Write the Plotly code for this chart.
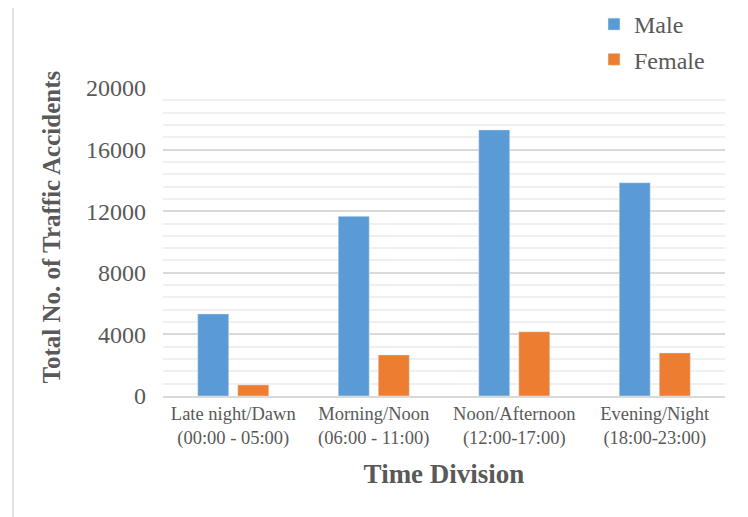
import plotly.graph_objects as go

categories = ["Late night/Dawn<br>(00:00 - 05:00)", "Morning/Noon<br>(06:00 - 11:00)",
              "Noon/Afternoon<br>(12:00-17:00)", "Evening/Night<br>(18:00-23:00)"]
male = [5330, 11670, 17280, 13850]
female = [720, 2670, 4170, 2800]
y_ticks = [0, 4000, 8000, 12000, 16000, 20000]
y_title = "Total No. of Traffic Accidents"
x_title = "Time Division"

FONT = "Liberation Serif, Times New Roman, serif"
GRAY = "#595959"

# page is offset by an 8px body margin; geometry below compensates
W, H = 748, 517
L, R, T, B = 155, 31, 80, 129
PW, PH = W - L - R, H - T - B

fig = go.Figure()
fig.add_trace(go.Bar(name="Male", x=categories, y=male, marker_color="#5B9BD5", legendgroup="m"))
fig.add_trace(go.Bar(name="Female", x=categories, y=female, marker_color="#ED7D31", legendgroup="f"))

fig.update_layout(
    width=W, height=H,
    margin=dict(l=L, r=R, t=T, b=B, autoexpand=False),
    paper_bgcolor="white", plot_bgcolor="white",
    barmode="group", bargap=0.43, bargroupgap=0.225,
    font=dict(family=FONT, color=GRAY),
    showlegend=True,
    legend=dict(xref="paper", yref="paper", x=(586 - L) / PW, y=1 + (T + 6) / PH,
                xanchor="left", yanchor="top",
                font=dict(size=24, color=GRAY, family=FONT),
                itemwidth=30, tracegroupgap=1, bgcolor="rgba(0,0,0,0)"),
)
fig.update_xaxes(
    automargin=False,
    showline=True, linecolor="#D9D9D9", linewidth=1.5,
    tickfont=dict(size=18.5, color=GRAY, family=FONT),
    title=dict(text="<b>" + x_title + "</b>", font=dict(size=27, color=GRAY, family=FONT), standoff=16),
    ticks="",
)
fig.update_yaxes(
    automargin=False,
    range=[0, 20000], tickvals=y_ticks, ticktext=[str(v) for v in y_ticks],
    showgrid=True, gridcolor="#D9D9D9", gridwidth=1.5,
    minor=dict(dtick=800, showgrid=True, gridcolor="#F0F0F0", gridwidth=1.5),
    zeroline=False,
    tickfont=dict(size=24, color=GRAY, family=FONT),
    ticklabelstandoff=16,
    ticks="",
)
fig.add_annotation(text="<b>" + y_title + "</b>", textangle=-90, showarrow=False,
                   xref="paper", yref="paper", x=(43 - L) / PW, y=1 - (219.5 - T) / PH,
                   xanchor="center", yanchor="middle",
                   font=dict(size=25, color=GRAY, family=FONT))
fig.add_shape(type="line", xref="paper", yref="paper",
              x0=-(L - 5) / PW, x1=-(L - 5) / PW, y0=-(B - 2) / PH, y1=1 + (T + 10) / PH,
              line=dict(color="#D9D9D9", width=1.5))
fig.write_html("out.html")
